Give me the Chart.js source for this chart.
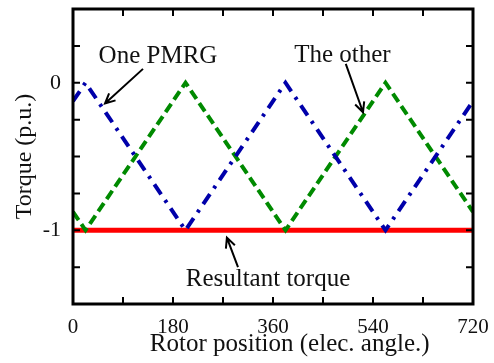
<!DOCTYPE html>
<html>
<head>
<meta charset="utf-8">
<script src="https://cdn.jsdelivr.net/npm/chart.js@4"></script>
<style>
  html, body { margin: 0; padding: 0; background: #fff; }
  #wrap { width: 494px; height: 363px; }
</style>
</head>
<body>
<div id="wrap"><canvas id="torqueChart" width="494" height="363"></canvas></div>
<script>
// --- Datos ---
const ANGLES      = [0, 22.5, 202.5, 382.5, 562.5, 720];
const ONE_PMRG    = [-0.125, 0, -1, 0, -1, -0.125];
const THE_OTHER   = [-0.875, -1, 0, -1, 0, -0.875];
const RESULTANT   = [-1, -1, -1, -1, -1, -1];
const X_LABELS    = [0, 180, 360, 540, 720];
const Y_LABELS    = [0, -1];
const X_TITLE     = "Rotor position (elec. angle.)";

// anotaciones en coordenadas de datos (texto, punto del texto, flecha desde -> hasta)
const NOTES = [
  { text: "One PMRG",         at: [153, 0.134],  from: [126, 0.094], to: [57.6, -0.141] },
  { text: "The other",        at: [485, 0.141],  from: [491, 0.128], to: [522, -0.20] },
  { text: "Resultant torque", at: [351, -1.376], from: [297, -1.25], to: [277, -1.05] },
];

const FONT = "'Liberation Serif', 'Times New Roman', serif";
const pts = (ys) => ANGLES.map((a, i) => ({ x: a, y: ys[i] }));

// quitar el relleno extra que Chart.js deja por las etiquetas
const noPad = (s) => { s.paddingTop = 0; s.paddingBottom = 0; s.paddingLeft = 0; s.paddingRight = 0; };

// ticks hacia adentro + marco + título X (va algo corrido a la derecha en el original)
const framePlugin = {
  id: "frame",
  afterDraw(chart) {
    const { ctx, chartArea: a } = chart;
    const xs = chart.scales.x, ys = chart.scales.y;
    ctx.save();
    ctx.strokeStyle = "#000";
    ctx.lineWidth = 2;
    ctx.beginPath();
    xs.ticks.forEach(t => {
      const px = xs.getPixelForValue(t.value);
      ctx.moveTo(px, a.bottom); ctx.lineTo(px, a.bottom - 7);
      ctx.moveTo(px, a.top);    ctx.lineTo(px, a.top + 7);
    });
    ys.ticks.forEach(t => {
      const py = ys.getPixelForValue(t.value);
      ctx.moveTo(a.left, py);  ctx.lineTo(a.left + 7, py);
      ctx.moveTo(a.right, py); ctx.lineTo(a.right - 7, py);
    });
    ctx.stroke();
    ctx.lineWidth = 3;
    ctx.strokeRect(a.left, a.top, a.right - a.left, a.bottom - a.top);

    ctx.fillStyle = "#111";
    ctx.textAlign = "center";
    ctx.textBaseline = "alphabetic";

    ctx.font = "25px " + FONT;
    ctx.fillText(X_TITLE, xs.getPixelForValue(390), a.bottom + 47);

    // anotaciones
    ctx.lineWidth = 2;
    NOTES.forEach(n => {
      ctx.fillText(n.text, xs.getPixelForValue(n.at[0]), ys.getPixelForValue(n.at[1]));
      const x0 = xs.getPixelForValue(n.from[0]), y0 = ys.getPixelForValue(n.from[1]);
      const x1 = xs.getPixelForValue(n.to[0]),   y1 = ys.getPixelForValue(n.to[1]);
      const ang = Math.atan2(y1 - y0, x1 - x0);
      ctx.beginPath();
      ctx.moveTo(x0, y0); ctx.lineTo(x1, y1);
      ctx.moveTo(x1 - 11 * Math.cos(ang - 0.45), y1 - 11 * Math.sin(ang - 0.45));
      ctx.lineTo(x1, y1);
      ctx.lineTo(x1 - 11 * Math.cos(ang + 0.45), y1 - 11 * Math.sin(ang + 0.45));
      ctx.stroke();
    });
    ctx.restore();
  }
};

new Chart(document.getElementById("torqueChart"), {
  type: "line",
  data: {
    datasets: [
      {
        label: "One PMRG",
        data: pts(ONE_PMRG),
        borderColor: "#0000aa",
        borderWidth: 4,
        borderDash: [12, 7, 3, 7],
        pointRadius: 0,
        tension: 0,
        order: 0
      },
      {
        label: "The other",
        data: pts(THE_OTHER),
        borderColor: "#008a00",
        borderWidth: 4,
        borderDash: [10, 5],
        pointRadius: 0,
        tension: 0,
        order: 0
      },
      {
        label: "Resultant torque",
        data: pts(RESULTANT),
        borderColor: "#ff0000",
        borderWidth: 5,
        pointRadius: 0,
        tension: 0,
        order: 1
      }
    ]
  },
  options: {
    responsive: false,
    animation: false,
    layout: { padding: { top: 9, right: 21, left: 0, bottom: 0 } },
    plugins: { legend: { display: false }, tooltip: { enabled: false } },
    scales: {
      x: {
        type: "linear",
        min: 0, max: 720,
        grid: { display: false },
        border: { display: false },
        afterFit: (s) => { s.height = 59; noPad(s); },
        ticks: {
          stepSize: 90,
          autoSkip: false,
          maxRotation: 0,
          padding: 3,
          color: "#111",
          font: { family: FONT, size: 21 },
          callback: (v) => X_LABELS.includes(v) ? String(v) : ""
        },
        title: { display: false }
      },
      y: {
        min: -1.5, max: 0.5,
        grid: { display: false },
        border: { display: false },
        afterFit: (s) => { s.width = 73; noPad(s); },
        ticks: {
          stepSize: 0.25,
          autoSkip: false,
          padding: 4,
          color: "#111",
          font: { family: FONT, size: 22 },
          callback: (v) => Y_LABELS.includes(v) ? String(v) : ""
        },
        title: {
          display: true,
          text: "Torque (p.u.)",
          color: "#111",
          font: { family: FONT, size: 24 },
          padding: { top: 10, bottom: 0 }
        }
      }
    }
  },
  plugins: [framePlugin]
});
</script>
</body>
</html>
